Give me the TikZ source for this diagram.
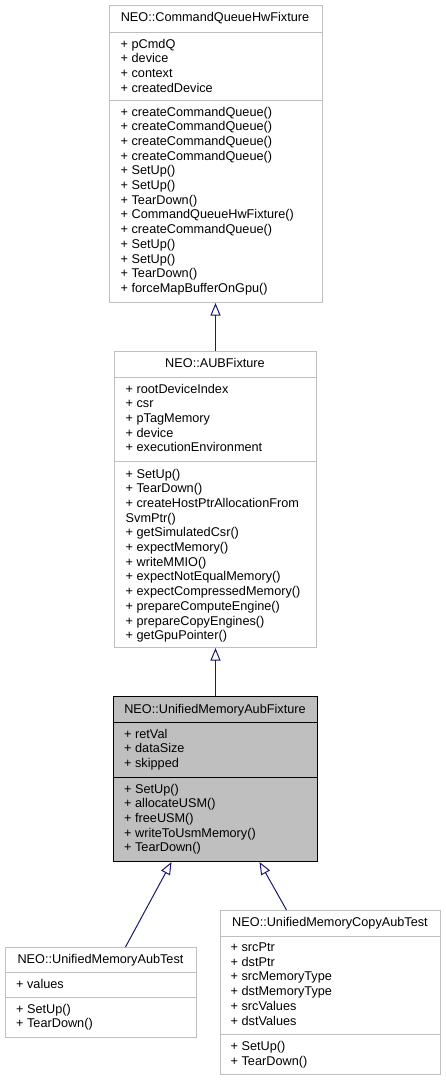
\documentclass[tikz,border=0pt]{standalone}
\usepackage{fontspec}
\setmainfont{Liberation Sans}
\usetikzlibrary{arrows.meta}
\definecolor{edgecol}{HTML}{191970}
\definecolor{boxfill}{HTML}{BFBFBF}
\definecolor{bordergray}{HTML}{BFBFBF}
\tikzset{
  txt/.style={anchor=base west, inner sep=0pt, font=\fontsize{12.7}{14.7}\selectfont},
  ttl/.style={anchor=base, inner sep=0pt, font=\fontsize{12.7}{14.7}\selectfont},
  cls/.style={draw=bordergray, line width=1pt, fill=white, inner sep=0pt, anchor=north west},
  clsmain/.style={cls, draw=black, fill=boxfill},
  sepline/.style={draw=bordergray, line width=1pt},
  sepmain/.style={draw=black, line width=1pt},
  inh/.style={draw=edgecol, line width=1pt, -{Triangle[open, length=12.5pt, width=10pt]}},
}
\newcommand\classlines[4]{\foreach \t [count=\i from 0] in {#4} {\node[txt] (#1\i) at (#2,{#3+14.7*\i}) {\t};}}
\begin{document}
\begin{tikzpicture}[x=1pt,y=-1pt]
\useasboundingbox (0,0) rectangle (445,1080);
% Box 1
\node[cls, minimum width=213pt, minimum height=297pt] (cqhf) at (108.5,5) {};
\draw[sepline] (108.5,32) -- (321.5,32);
\draw[sepline] (108.5,100) -- (321.5,100);
\node[ttl] (cqhft) at (215,21.8) {NEO::CommandQueueHwFixture};
\classlines{cqa}{120.5}{48}{+ pCmdQ,+ device,+ context,+ createdDevice}
\classlines{cqm}{120.5}{116}{+ createCommandQueue(),+ createCommandQueue(),+ createCommandQueue(),+ createCommandQueue(),+ SetUp(),+ SetUp(),+ TearDown(),+ CommandQueueHwFixture(),+ createCommandQueue(),+ SetUp(),+ SetUp(),+ TearDown(),+ forceMapBufferOnGpu()}
% Box 2
\node[cls, minimum width=202pt, minimum height=296pt] (aub) at (114,351) {};
\draw[sepline] (114,377) -- (316,377);
\draw[sepline] (114,461) -- (316,461);
\node[ttl] (aubt) at (215,367.5) {NEO::AUBFixture};
\classlines{aba}{125.5}{393}{+ rootDeviceIndex,+ csr,+ pTagMemory,+ device,+ executionEnvironment}
\classlines{abm}{125.5}{478}{+ SetUp(),+ TearDown(),+ createHostPtrAllocationFrom,SvmPtr(),+ getSimulatedCsr(),+ expectMemory(),+ writeMMIO(),+ expectNotEqualMemory(),+ expectCompressedMemory(),+ prepareComputeEngine(),+ prepareCopyEngines(),+ getGpuPointer()}
% Box 3
\node[clsmain, minimum width=204pt, minimum height=165pt] (umaf) at (113,696) {};
\draw[sepmain] (113,722) -- (317,722);
\draw[sepmain] (113,777) -- (317,777);
\node[ttl] (umaft) at (215,713) {NEO::UnifiedMemoryAubFixture};
\classlines{ufa}{124}{738}{+ retVal,+ dataSize,+ skipped}
\classlines{ufm}{124}{793}{+ SetUp(),+ allocateUSM(),+ freeUSM(),+ writeToUsmMemory(),+ TearDown()}
% Box 4
\node[cls, minimum width=191pt, minimum height=90pt] (umat) at (5,947) {};
\draw[sepline] (5,972) -- (196,972);
\draw[sepline] (5,997) -- (196,997);
\node[ttl] (umatt) at (100.5,963) {NEO::UnifiedMemoryAubTest};
\classlines{uta}{16}{988}{+ values}
\classlines{utm}{16}{1013}{+ SetUp(),+ TearDown()}
% Box 5
\node[cls, minimum width=220pt, minimum height=164pt] (umct) at (220,910) {};
\draw[sepline] (220,936) -- (440,936);
\draw[sepline] (220,1034) -- (440,1034);
\node[ttl] (umctt) at (330,926.5) {NEO::UnifiedMemoryCopyAubTest};
\classlines{uca}{230.5}{951.5}{+ srcPtr,+ dstPtr,+ srcMemoryType,+ dstMemoryType,+ srcValues,+ dstValues}
\classlines{ucm}{230.5}{1050.5}{+ SetUp(),+ TearDown()}
% Edges
\draw[inh] (aub.north) -- (cqhf.south);
\draw[inh] (umaf.north) -- (aub.south);
\draw[inh] ([xshift=24.5pt]umat.north) -- ([xshift=-44pt]umaf.south);
\draw[inh] ([xshift=-44pt]umct.north) -- ([xshift=44pt]umaf.south);
\end{tikzpicture}
\end{document}
